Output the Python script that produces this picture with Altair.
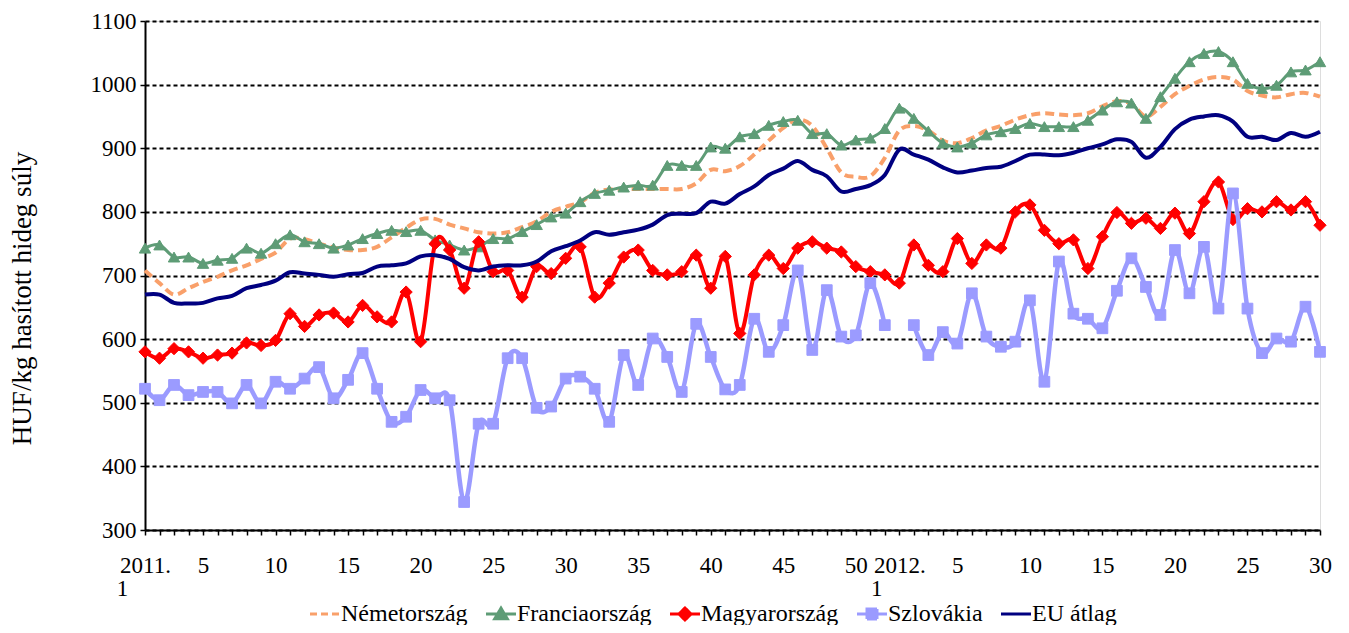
import altair as alt
import pandas as pd

# ---- data -------------------------------------------------------------
series = ["Németország", "Franciaország", "Magyarország", "Szlovákia", "EU átlag"]
colors = ["#F9A06A", "#5E9C76", "#FF0000", "#9B9BFF", "#000080"]

weeks = list(range(1, 53)) + list(range(1, 31))   # 2011 w1..52, 2012 w1..30
years = [2011] * 52 + [2012] * 30

nemetorszag = [708, 688, 670, 680, 690, 698, 708, 716, 726, 736,
               758, 757, 750, 744, 740, 740, 745, 760, 775, 788,
               789, 780, 774, 768, 766, 768, 776, 785, 800, 808,
               815, 830, 835, 836, 836, 836, 836, 836, 845, 866,
               864, 872, 890, 912, 932, 945, 935, 900, 862, 855,
               856, 885, 928, 935, 928, 912, 908, 916, 928, 935,
               945, 952, 955, 953, 952, 955, 966, 974, 970, 950,
               965, 985, 998, 1008, 1012, 1008, 990, 983, 980, 985,
               987, 981]

franciaorszag = [743, 748, 729, 729, 719, 724, 727, 743, 735, 750,
                 764, 753, 750, 743, 748, 758, 766, 771, 769, 771,
                 756, 748, 740, 745, 758, 758, 769, 780, 792, 798,
                 816, 829, 834, 839, 842, 842, 873, 873, 873, 902,
                 900, 918, 923, 936, 942, 944, 923, 923, 905, 913,
                 916, 931, 963, 947, 927, 908, 902, 908, 921, 926,
                 931, 939, 934, 934, 934, 944, 960, 973, 971, 947,
                 981, 1010, 1036, 1049, 1052, 1036, 1002, 994, 999, 1020,
                 1023, 1036]

magyarorszag = [580, 570, 585, 580, 570, 575, 578, 594, 590, 598,
                640, 620, 638, 641, 627, 653, 635, 627, 674, 596,
                750, 740, 680, 753, 706, 708, 666, 714, 703, 727,
                745, 666, 688, 729, 740, 708, 701, 706, 732, 680,
                730, 609, 701, 732, 711, 743, 753, 743, 737, 714,
                706, 701, 688, 748, 716, 706, 758, 719, 748, 743,
                800, 811, 771, 750, 756, 711, 761, 799, 782, 790,
                774, 798, 766, 816, 847, 788, 805, 800, 816, 803,
                816, 779]

szlovakia = [522, 504, 528, 512, 517, 517, 499, 528, 499, 533,
             522, 538, 556, 507, 536, 578, 522, 470, 478, 520,
             507, 504, 344, 467, 467, 570, 570, 492, 494, 538,
             541, 522, 470, 575, 528, 601, 572, 517, 624, 572,
             521, 528, 632, 580, 622, 708, 583, 677, 604, 606,
             688, 622, None, 622, 575, 611, 593, 672, 604, 588,
             596, 661, 533, 722, 640, 632, 617, 676, 727, 682,
             638, 740, 672, 745, 648, 829, 648, 578, 601, 596,
             651, 580]

eu_atlag = [670, 670, 657, 656, 657, 664, 668, 680, 685, 692,
            705, 703, 701, 698, 702, 704, 714, 716, 719, 730,
            732, 726, 713, 708, 714, 716, 716, 722, 738, 746,
            755, 768, 764, 768, 772, 780, 795, 797, 798, 816,
            813, 828, 840, 858, 868, 880, 866, 856, 832, 836,
            842, 858, 898, 890, 882, 870, 862, 865, 869, 871,
            880, 890, 890, 889, 893, 900, 906, 914, 910, 885,
            902, 930, 945, 950, 952, 942, 918, 918, 913, 924,
            918, 926]

values = [nemetorszag, franciaorszag, magyarorszag, szlovakia, eu_atlag]

# x tick labels: year on first week, then every 5th week
tick_labels = []
for w, yr in zip(weeks, years):
    if w == 1:
        # second line "1" sits a little left, as in the original
        tick_labels.append(f"{yr}.|1" + "\u2007" * 4 + "\u200b")
    elif w % 5 == 0:
        tick_labels.append(str(w))
    else:
        tick_labels.append("")

rows = []
for s, vals in zip(series, values):
    for i, v in enumerate(vals):
        rows.append({"idx": i, "series": s, "value": v})
df = pd.DataFrame(rows)

# ---- styling ----------------------------------------------------------
FONT = "Liberation Serif"
n = len(weeks)
label_array = "[" + ",".join("'" + t + "'" for t in tick_labels) + "]"

x_enc = alt.X(
    "idx:Q",
    scale=alt.Scale(domain=[0, n - 1], nice=False, zero=False),
    axis=alt.Axis(
        values=list(range(n)),
        labelExpr=f"split({label_array}[datum.value], '|')",
        title=None, grid=False, labelOverlap=False, labelAngle=0,
        tickSize=5, tickColor="black", tickWidth=1.5,
        domainColor="black", domainWidth=2,
        labelFont=FONT, labelFontSize=23, labelColor="black",
        labelPadding=19, labelLineHeight=23, labelFlush=False,
    ),
)
y_enc = alt.Y(
    "value:Q",
    scale=alt.Scale(domain=[300, 1100], nice=False, zero=False),
    axis=alt.Axis(
        values=list(range(300, 1101, 100)), format="d",
        title="HUF/kg hasított hideg súly",
        titleFont=FONT, titleFontSize=27, titleFontWeight="normal", titleColor="black",
        titleX=-123, titleY=277, titleAngle=270, titleAlign="center", titleBaseline="middle",
        grid=True, gridColor="black", gridDash=[4, 3], gridWidth=2,
        tickSize=5, tickColor="black", tickWidth=1.5,
        domainColor="black", domainWidth=2,
        labelFont=FONT, labelFontSize=23, labelColor="black", labelPadding=4,
    ),
)

base = alt.Chart(df)

layers = []
# Németország: dashed, no markers
layers.append(base.transform_filter(alt.datum.series == series[0]).mark_line(
    interpolate="cardinal", tension=0, color=colors[0], strokeWidth=4, strokeDash=[9, 5],
    invalid="break-paths-show-domains").encode(x=x_enc, y=y_enc))
# Franciaország: line + triangles
layers.append(base.transform_filter(alt.datum.series == series[1]).mark_line(
    interpolate="cardinal", tension=0, color=colors[1], strokeWidth=3,
    invalid="break-paths-show-domains").encode(x=x_enc, y=y_enc))
layers.append(base.transform_filter(alt.datum.series == series[1]).mark_point(
    shape="triangle-up", filled=True, size=130, color=colors[1], opacity=1,
    stroke=colors[1], strokeWidth=1).encode(x=x_enc, y=y_enc))
# Magyarország: line + diamonds
layers.append(base.transform_filter(alt.datum.series == series[2]).mark_line(
    interpolate="cardinal", tension=0, color=colors[2], strokeWidth=4,
    invalid="break-paths-show-domains").encode(x=x_enc, y=y_enc))
layers.append(base.transform_filter(alt.datum.series == series[2]).mark_point(
    shape="diamond", filled=True, size=150, color=colors[2], opacity=1,
    stroke=colors[2], strokeWidth=1).encode(x=x_enc, y=y_enc))
# Szlovákia: line + squares
layers.append(base.transform_filter(alt.datum.series == series[3]).mark_line(
    interpolate="cardinal", tension=0, color=colors[3], strokeWidth=4.5,
    invalid="break-paths-show-domains").encode(x=x_enc, y=y_enc))
layers.append(base.transform_filter(alt.datum.series == series[3]).mark_point(
    shape="square", filled=True, size=115, color=colors[3], opacity=1,
    stroke=colors[3], strokeWidth=1).encode(x=x_enc, y=y_enc))
# EU átlag: solid navy line
layers.append(base.transform_filter(alt.datum.series == series[4]).mark_line(
    interpolate="cardinal", tension=0, color=colors[4], strokeWidth=4,
    invalid="break-paths-show-domains").encode(x=x_enc, y=y_enc))

# legend layer (no marks drawn, only provides the legend)
legend_paths = [
    "M-3,0H3",
    "M-3,0H3M0,-1.15L1.25,0.95H-1.25Z",
    "M-3,0H3M0,-1.2L1.2,0L0,1.2L-1.2,0Z",
    "M-3,0H3M-1,-1H1V1H-1Z",
    "M-3,0H3",
]
legend_dashes = [[7, 4], [1, 0], [1, 0], [1, 0], [1, 0]]
leg = alt.Legend(
    title=None, orient="none", legendX=168, legendY=581, direction="horizontal",
    columns=5, padding=0, labelFont=FONT, labelFontSize=24, labelColor="black",
    symbolSize=100, symbolStrokeWidth=3, labelOffset=4, columnPadding=12,
)
legend_layer = base.transform_filter("false").mark_point(filled=True, opacity=1).encode(
    x=x_enc, y=y_enc,
    color=alt.Color("series:N", scale=alt.Scale(domain=series, range=colors), legend=leg),
    stroke=alt.Stroke("series:N", scale=alt.Scale(domain=series, range=colors), legend=leg),
    shape=alt.Shape("series:N", scale=alt.Scale(domain=series, range=legend_paths), legend=leg),
    strokeDash=alt.StrokeDash("series:N", scale=alt.Scale(domain=series, range=legend_dashes), legend=leg),
)
layers.append(legend_layer)

chart = alt.layer(*layers).properties(
    width=1175, height=509,
    autosize=alt.AutoSizeParams(type="none"),
    padding={"left": 137, "top": 13, "right": 20, "bottom": 95},
    background="white",
).configure_view(stroke=None).configure(font=FONT)

chart.save("out.html", embed_options={"renderer": "svg", "actions": False})
